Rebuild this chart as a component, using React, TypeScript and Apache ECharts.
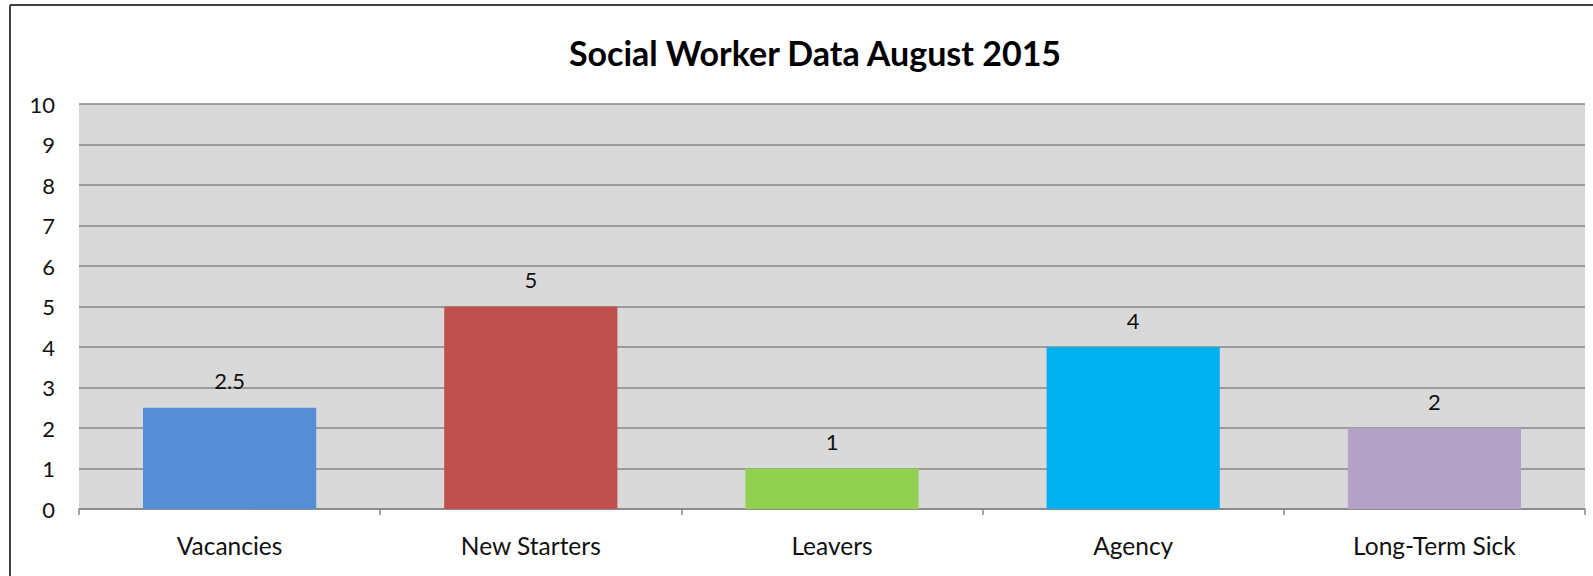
import React, { useEffect, useRef } from "react";
import * as echarts from "echarts";

const categories = ["Vacancies", "New Starters", "Leavers", "Agency", "Long-Term Sick"];
const values = [2.5, 5, 1, 4, 2];
const barColors = ["#558ED5", "#C0504D", "#92D050", "#00B0F0", "#B3A2C7"];
const yTicks = [0, 10, 1];
const titleText = "Social Worker Data August 2015";

export default function App() {
  const ref = useRef<HTMLDivElement>(null);
  useEffect(() => {
    document.body.style.margin = "0";
    if (!ref.current) return;
    const chart = echarts.init(ref.current, null, { renderer: "svg" });
    const font = "Lato, 'Liberation Sans', sans-serif";
    chart.setOption({
      animation: false,
      backgroundColor: "#ffffff",
      title: {
        text: titleText,
        left: 810,
        textAlign: "center",
        top: 30,
        textStyle: { fontFamily: font, fontSize: 34, fontWeight: "bold", color: "#000" },
      },
      graphic: [
        { type: "line", shape: { x1: 10, y1: 5, x2: 1593, y2: 5 }, style: { stroke: "#404040", lineWidth: 2 } },
        { type: "line", shape: { x1: 10, y1: 5, x2: 10, y2: 576 }, style: { stroke: "#404040", lineWidth: 2 } },
      ],
      grid: {
        left: 79,
        right: 8,
        top: 104,
        bottom: 67,
        show: true,
        backgroundColor: "#D9D9D9",
        borderWidth: 0,
      },
      xAxis: {
        type: "category",
        data: categories,
        boundaryGap: true,
        axisLine: { show: true, lineStyle: { color: "#868686", width: 1.5 } },
        axisTick: { show: true, length: 6, lineStyle: { color: "#868686", width: 1.5 } },
        axisLabel: { fontFamily: font, fontSize: 24.5, color: "#111", margin: 24 },
      },
      yAxis: {
        type: "value",
        min: yTicks[0],
        max: yTicks[1],
        interval: yTicks[2],
        axisLine: { show: false },
        axisTick: { show: false },
        axisLabel: { fontFamily: font, fontSize: 22, color: "#111", margin: 24 },
        splitLine: { show: true, lineStyle: { color: "#868686", width: 1.5 } },
      },
      series: [
        {
          type: "bar",
          data: values.map((v, i) => ({ value: v, itemStyle: { color: barColors[i] } })),
          barCategoryGap: "42.5%",
          label: {
            show: true,
            position: "top",
            distance: 16,
            fontFamily: font,
            fontSize: 22,
            color: "#111",
          },
        },
      ],
    });
    return () => chart.dispose();
  }, []);
  return <div ref={ref} style={{ width: 1593, height: 576 }} />;
}
